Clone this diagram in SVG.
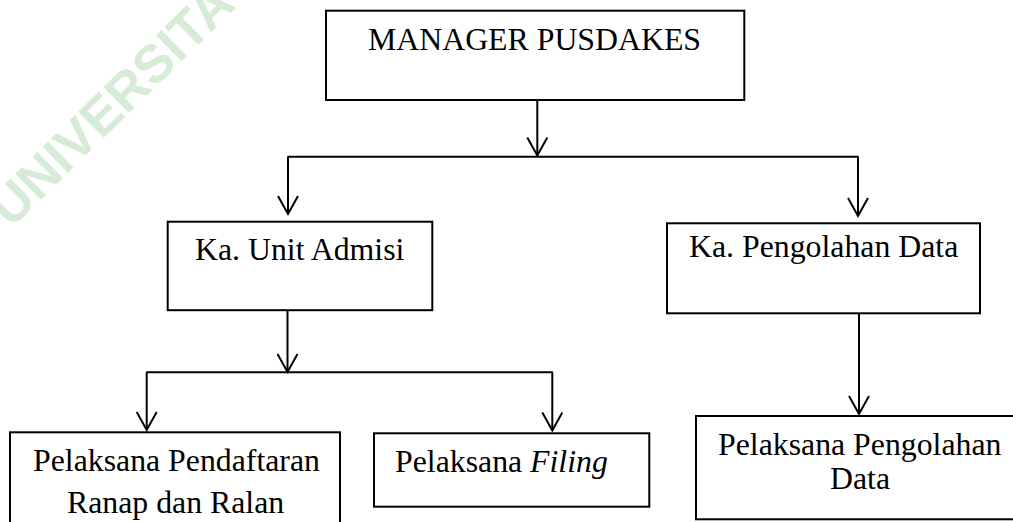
<svg xmlns="http://www.w3.org/2000/svg" width="1013" height="522" viewBox="0 0 1013 522">
<defs>
<style>
.box{fill:none;stroke:#000;stroke-width:2}
.lbl{font-family:"Liberation Serif","Times New Roman",serif;font-size:31.8px;fill:#000}
.conn{fill:none;stroke:#000;stroke-width:2}
.wm{font-family:"Liberation Sans",Arial,sans-serif;font-weight:bold;font-size:53px;fill:#d6ecd6}
</style>
<marker id="arr" markerUnits="userSpaceOnUse" markerWidth="24" markerHeight="24" viewBox="-20 -12 24 24" refX="0" refY="0" orient="auto">
<path d="M-18,-10 L0,0 L-18,10" fill="none" stroke="#000" stroke-width="2"/>
</marker>
</defs>
<rect width="1013" height="522" fill="#fff"/>
<text class="wm" transform="translate(11,229) rotate(-44.5)">UNIVERSITA</text>
<g id="connectors">
<line class="conn" x1="537.3" y1="100" x2="537.3" y2="155.5" marker-end="url(#arr)"/>
<line class="conn" x1="287.5" y1="156.7" x2="858.5" y2="156.7"/>
<line class="conn" x1="288" y1="156.7" x2="288" y2="214" marker-end="url(#arr)"/>
<line class="conn" x1="858" y1="156.7" x2="858" y2="216" marker-end="url(#arr)"/>
<line class="conn" x1="287.5" y1="311" x2="287.5" y2="372" marker-end="url(#arr)"/>
<line class="conn" x1="146.2" y1="372.3" x2="552.8" y2="372.3"/>
<line class="conn" x1="146.7" y1="372.3" x2="146.7" y2="430" marker-end="url(#arr)"/>
<line class="conn" x1="552.3" y1="372.3" x2="552.3" y2="430.5" marker-end="url(#arr)"/>
<line class="conn" x1="859" y1="313.3" x2="859" y2="414" marker-end="url(#arr)"/>
</g>
<g id="manager">
<rect class="box" x="326" y="10.7" width="418.3" height="89.3"/>
<text class="lbl" x="368" y="50">MANAGER PUSDAKES</text>
</g>
<g id="ka-unit-admisi">
<rect class="box" x="167.7" y="221.7" width="264.6" height="88.5"/>
<text class="lbl" x="195" y="260">Ka. Unit Admisi</text>
</g>
<g id="ka-pengolahan-data">
<rect class="box" x="667" y="223.3" width="313" height="90"/>
<text class="lbl" x="689" y="256.7">Ka. Pengolahan Data</text>
</g>
<g id="pelaksana-pendaftaran">
<rect class="box" x="10" y="432.3" width="330" height="100"/>
<text class="lbl" x="33" y="471">Pelaksana Pendaftaran</text>
<text class="lbl" x="67" y="513">Ranap dan Ralan</text>
</g>
<g id="pelaksana-filing">
<rect class="box" x="374" y="433.3" width="275.3" height="73.4"/>
<text class="lbl" x="395" y="471.7">Pelaksana <tspan font-style="italic">Filing</tspan></text>
</g>
<g id="pelaksana-pengolahan">
<rect class="box" x="696" y="416" width="330" height="103.3"/>
<text class="lbl" x="718" y="455">Pelaksana Pengolahan</text>
<text class="lbl" x="860" y="489" text-anchor="middle">Data</text>
</g>
</svg>
